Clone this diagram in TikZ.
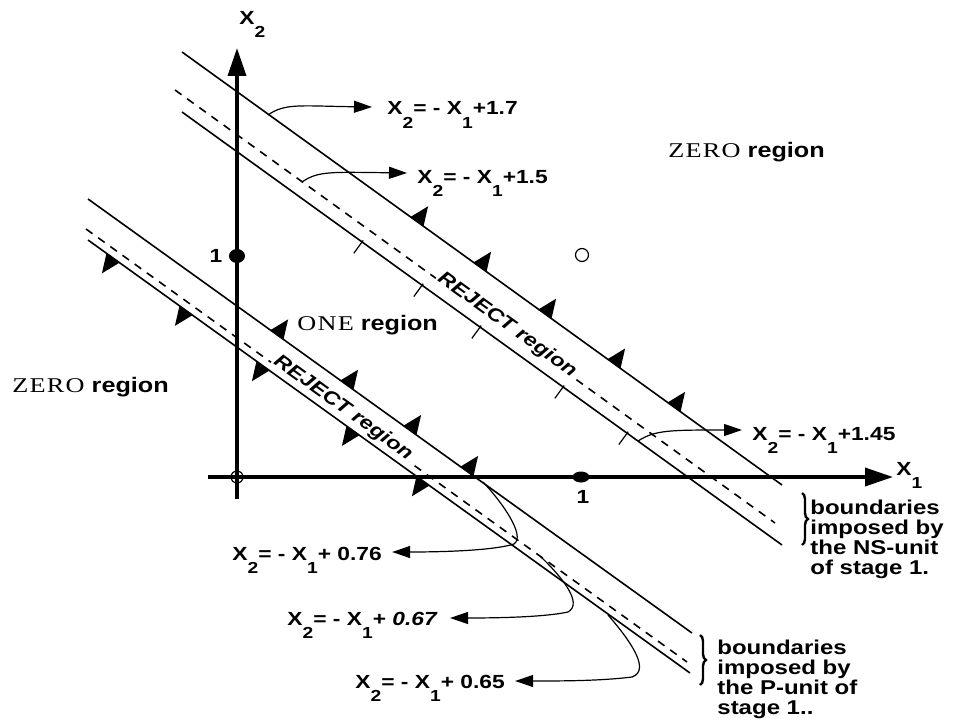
\documentclass[tikz,border=0pt]{standalone}
\usepackage{fontspec}
\usetikzlibrary{arrows.meta,calc,decorations.pathreplacing,shapes.geometric}
\newfontfamily\lblfont[FakeStretch=1.2]{Liberation Sans}
\newfontfamily\romfont[FakeStretch=1.25,LetterSpace=6]{Liberation Serif}
% lowered index as in the scan
\newcommand{\dn}[1]{\raisebox{-6.5pt}{\fontsize{8}{8}\selectfont #1}}
% side markers on a boundary line (pixel units, y down)
\newcommand{\flagup}[1]{\fill (#1) ++(-6.5,-4.7) -- ++(13,9.4) -- ++(4.6,-20.1) -- cycle;}
\newcommand{\flagdn}[1]{\fill (#1) ++(6.5,4.7) -- ++(-13,-9.4) -- ++(-4.6,20.1) -- cycle;}
\newcommand{\tickdn}[1]{\draw[line width=0.6pt] (#1) ++(1.2,-1.6) -- ++(-9.4,12.9);}

\begin{document}
\begin{tikzpicture}[x=0.5pt,y=-0.5pt,
  bound/.style={line width=0.8pt},
  mid/.style={line width=0.8pt,dash pattern=on 4pt off 3.5pt},
  axis/.style={line width=1.8pt,-{Triangle[length=14pt,width=9pt]}},
  callout/.style={line width=0.6pt,-{Triangle[length=9pt,width=6pt]}},
  eqn/.style={inner sep=0pt,font={\lblfont\bfseries\fontsize{9.5}{11}\selectfont}},
  region/.style={inner sep=0pt,anchor=base west,font={\fontsize{10.5}{12}\selectfont}},
  rej/.style={fill=white,inner sep=1pt,font={\lblfont\bfseries\itshape\fontsize{9.5}{11}\selectfont}},
  note/.style={inner sep=0pt,anchor=north west,align=left,font={\lblfont\bfseries\fontsize{10}{10}\selectfont}},
  brace/.style={decorate,decoration={brace,amplitude=3pt},line width=1.2pt},
  dot/.style={ellipse,fill,inner sep=0pt},
  hole/.style={circle,draw,line width=0.6pt,inner sep=0pt,minimum size=6pt}]
  \useasboundingbox (0,0) rectangle (953,722);

  % axes
  \draw[axis] (237,499) -- (237,48);
  \draw[axis] (208,477) -- (893,477);
  \node[eqn,anchor=base west] (x2lbl) at (239,25) {X\dn{2}};
  \node[eqn,anchor=base west] (x1lbl) at (896,475) {X\dn{1}};
  \node[dot,minimum width=8pt,minimum height=7pt] (p01) at (237,256) {};
  \node[dot,minimum width=8.5pt,minimum height=5.5pt] (p10) at (581,477) {};
  \node[hole] (p00) at (237,477) {};
  \node[hole,minimum size=6.5pt] (p11) at (582,255) {};
  \node[eqn] (one2) at (216,256) {1};
  \node[eqn] (one1) at (583,497) {1};

  % NS-unit band
  \draw[bound] (182,52) -- (782,485);
  \draw[mid] (175,90) -- (775,523);
  \draw[bound] (182,112) -- (782,545);
  \foreach \px in {417,480,545,614,674} {\flagup{\px,{52+0.722*(\px-182)}}}
  \foreach \px in {362,422,480,563,627} {\tickdn{\px,{112+0.722*(\px-182)}}}

  % P-unit band
  \draw[bound] (88,199) -- (692,633);
  \draw[mid] (86,229) -- (687,662);
  \draw[bound] (88,240) -- (690,673);
  \foreach \px in {277,347,410,467} {\flagup{\px,{199+0.7185*(\px-88)}}}
  \foreach \px in {113,186,263,353,423} {\flagdn{\px,{240+0.719*(\px-88)}}}

  % band labels
  \node[rej,rotate=-35.8] (rejns) at (507,325) {REJECT region};
  \node[rej,rotate=-35.8] (rejp) at (343,408) {REJECT region};

  % regions
  \node[region] (zeroup) at (668,157) {{\romfont ZERO} {\lblfont\bfseries region}};
  \node[region] (onereg) at (297,330) {{\romfont ONE} {\lblfont\bfseries region}};
  \node[region] (zerolo) at (12,392) {{\romfont ZERO} {\lblfont\bfseries region}};

  % line equations
  \node[eqn,anchor=base west] (l17) at (387,115) {X\dn{2}= - X\dn{1}+1.7};
  \node[eqn,anchor=base west] (l15) at (417,184) {X\dn{2}= - X\dn{1}+1.5};
  \node[eqn,anchor=base west] (l145) at (752,440) {X\dn{2}= - X\dn{1}+1.45};
  \node[eqn,anchor=base west] (l076) at (232,560) {X\dn{2}= - X\dn{1}+ 0.76};
  \node[eqn,anchor=base west] (l067) at (287,625) {X\dn{2}= - X\dn{1}+ \textit{0.67}};
  \node[eqn,anchor=base west] (l065) at (355,688) {X\dn{2}= - X\dn{1}+ 0.65};

  \coordinate (s17) at (268,115);
  \coordinate (s15) at (302,182);
  \coordinate (s145) at (638,441);
  \coordinate (s076) at (483,482);
  \coordinate (s067) at (540,556);
  \coordinate (s065) at (608,615);
  \draw[callout] (s17) .. controls (285,103) and (300,106) .. ([shift={(-15,-8)}]l17.base west);
  \draw[callout] (s15) .. controls (318,171) and (330,172) .. ([shift={(-10,-11)}]l15.base west);
  \draw[callout] (s145) .. controls (655,430) and (670,430) .. ([shift={(-10,-10)}]l145.base west);
  \draw[callout] (s076) .. controls (502,502) and (526,536) .. (514,544)
    .. controls (495,550) and (450,552) .. ([shift={(10,-8)}]l076.base east);
  \draw[callout] (s067) .. controls (560,575) and (584,603) .. (568,612)
    .. controls (545,617) and (500,618) .. ([shift={(12,-7)}]l067.base east);
  \draw[callout] (s065) .. controls (628,638) and (652,670) .. (632,677)
    .. controls (600,681) and (560,681) .. ([shift={(10,-7)}]l065.base east);

  % unit notes
  \draw[brace] (802,493) -- (802,545);
  \node[note] (nsnote) at (810,500) {boundaries\\imposed by\\the NS-unit\\of stage 1.};
  \draw[brace] (700,635) -- (700,685);
  \node[note] (pnote) at (717,640) {boundaries\\imposed by\\the P-unit of\\stage 1..};
\end{tikzpicture}
\end{document}
